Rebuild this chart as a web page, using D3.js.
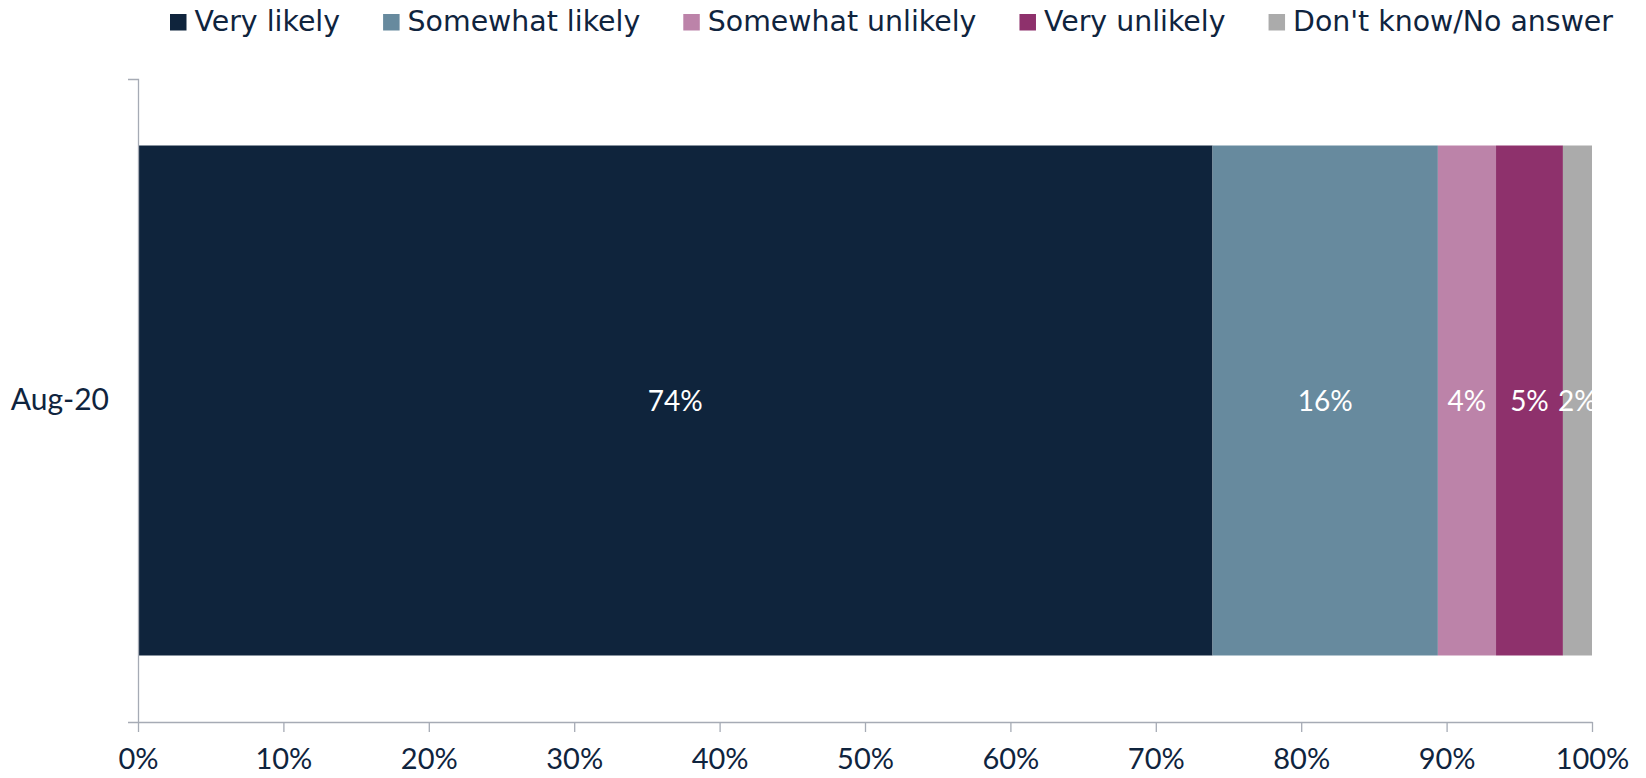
<!DOCTYPE html>
<html>
<head>
<meta charset="utf-8">
<script src="https://cdn.jsdelivr.net/npm/d3@7"></script>
<style>
  html, body { margin: 0; padding: 0; background: #fff; }
  svg { display: block; }
</style>
</head>
<body>
<svg id="chart" width="1646" height="778"></svg>
<script>
// ---- data ----
const categories = ["Aug-20"];
const seriesNames = ["Very likely", "Somewhat likely", "Somewhat unlikely", "Very unlikely", "Don't know/No answer"];
const seriesValues = [73.9, 15.5, 4.0, 4.6, 2.0];
const seriesColors = ["#0F243C", "#678A9E", "#BC83A9", "#8E316C", "#ABABAB"];
const xTickValues = [0, 10, 20, 30, 40, 50, 60, 70, 80, 90, 100];

// ---- layout ----
const W = 1646, H = 778;
const plot = { left: 138, right: 1592, top: 79, bottom: 722 };
const textColor = "#0F243E";
const axisColor = "#A6ABB5";

const svg = d3.select("#chart");

const x = d3.scaleLinear().domain([0, 100]).range([plot.left, plot.right]);
const y = d3.scaleBand().domain(categories).range([plot.top, plot.bottom])
  .paddingInner(0).paddingOuter(0.1304);

// stacked data
const rows = categories.map(c => {
  const o = { cat: c };
  seriesNames.forEach((s, i) => o[s] = seriesValues[i]);
  return o;
});
const stack = d3.stack().keys(seriesNames)(rows);

// bars
const g = svg.append("g");
stack.forEach((layer, i) => {
  g.selectAll(null).data(layer).enter().append("rect")
    .attr("x", d => x(d[0]))
    .attr("y", d => y(d.data.cat))
    .attr("width", d => x(d[1]) - x(d[0]))
    .attr("height", y.bandwidth())
    .attr("fill", seriesColors[i]);
});
// labels
stack.forEach((layer, i) => {
  g.selectAll(null).data(layer).enter().append("text")
    .attr("x", d => (x(d[0]) + x(d[1])) / 2)
    .attr("y", d => y(d.data.cat) + y.bandwidth() / 2)
    .attr("dy", "0.36em")
    .attr("text-anchor", "middle")
    .attr("fill", "#fff")
    .style("font-family", "Lato, sans-serif")
    .style("font-size", "28px")
    .text(d => Math.round(d[1] - d[0]) + "%");
});

// x axis
const xAxis = svg.append("g")
  .attr("transform", `translate(0,${plot.bottom})`)
  .call(d3.axisBottom(x).tickValues(xTickValues).tickFormat(d => d + "%")
    .tickSizeInner(10).tickSizeOuter(0).tickPadding(16));
xAxis.selectAll("path, line").attr("stroke", axisColor).attr("stroke-width", 1.3);
xAxis.selectAll("text").attr("fill", textColor)
  .style("font-family", "Lato, sans-serif").style("font-size", "29px");

// y axis
const yAxis = svg.append("g")
  .attr("transform", `translate(${plot.left},0)`)
  .call(d3.axisLeft(y).tickSizeInner(0).tickSizeOuter(10).tickPadding(29));
yAxis.selectAll("path, line").attr("stroke", axisColor).attr("stroke-width", 1.3);
yAxis.selectAll("text").attr("fill", textColor)
  .style("font-family", "Lato, sans-serif").style("font-size", "30px");

// legend: spans from x=170 to x=1613, gaps distributed evenly
const legend = svg.append("g");
const sq = 16.5, gapSqText = 8, legendLeft = 170, legendRight = 1613;
const items = seriesNames.map((s, i) => {
  const item = legend.append("g");
  const r = item.append("rect").attr("y", 14).attr("width", sq).attr("height", sq)
    .attr("fill", seriesColors[i]);
  const t = item.append("text").attr("y", 31)
    .attr("fill", textColor)
    .style("font-family", "'DejaVu Sans', sans-serif").style("font-size", "28.4px")
    .text(s);
  return { r, t, w: sq + gapSqText + t.node().getComputedTextLength() };
});
const totalW = d3.sum(items, d => d.w);
const gapItems = (legendRight - legendLeft - totalW) / (items.length - 1);
let lx = legendLeft;
items.forEach(it => {
  it.r.attr("x", lx);
  it.t.attr("x", lx + sq + gapSqText);
  lx += it.w + gapItems;
});
</script>
</body>
</html>
